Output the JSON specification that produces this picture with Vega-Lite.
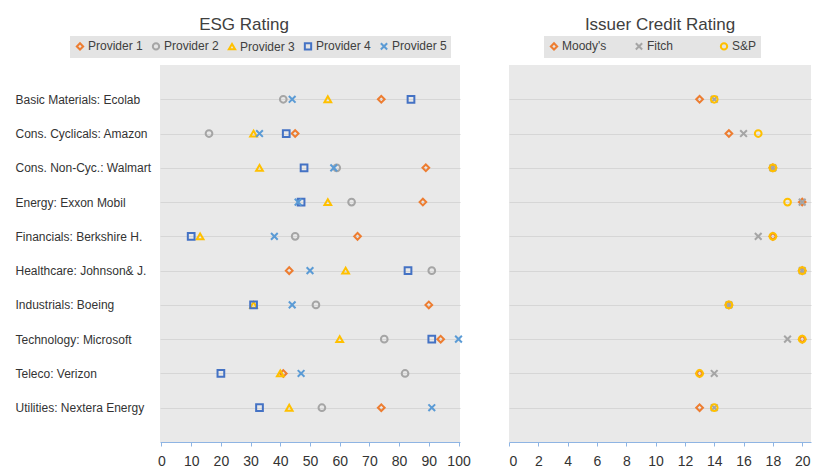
{
  "$schema": "https://vega.github.io/schema/vega-lite/v6.json",
  "background": "white",
  "padding": {"left": 15, "top": 16, "right": 3, "bottom": 2},
  "config": {
    "view": {"stroke": null, "fill": "#e9e9e9"},
    "font": "Liberation Sans",
    "axis": {"labelColor": "#404040", "labelFont": "Liberation Sans"},
    "legend": {"labelFont": "Liberation Sans"}
  },
  "datasets": {
    "esg": [
      {"company": "Basic Materials: Ecolab", "provider": "Provider 1", "value": 74},
      {"company": "Basic Materials: Ecolab", "provider": "Provider 2", "value": 41},
      {"company": "Basic Materials: Ecolab", "provider": "Provider 3", "value": 56},
      {"company": "Basic Materials: Ecolab", "provider": "Provider 4", "value": 84},
      {"company": "Basic Materials: Ecolab", "provider": "Provider 5", "value": 44},
      {"company": "Cons. Cyclicals: Amazon", "provider": "Provider 1", "value": 45},
      {"company": "Cons. Cyclicals: Amazon", "provider": "Provider 2", "value": 16},
      {"company": "Cons. Cyclicals: Amazon", "provider": "Provider 3", "value": 31},
      {"company": "Cons. Cyclicals: Amazon", "provider": "Provider 4", "value": 42},
      {"company": "Cons. Cyclicals: Amazon", "provider": "Provider 5", "value": 33},
      {"company": "Cons. Non-Cyc.: Walmart", "provider": "Provider 1", "value": 89},
      {"company": "Cons. Non-Cyc.: Walmart", "provider": "Provider 2", "value": 59},
      {"company": "Cons. Non-Cyc.: Walmart", "provider": "Provider 3", "value": 33},
      {"company": "Cons. Non-Cyc.: Walmart", "provider": "Provider 4", "value": 48},
      {"company": "Cons. Non-Cyc.: Walmart", "provider": "Provider 5", "value": 58},
      {"company": "Energy: Exxon Mobil", "provider": "Provider 1", "value": 88},
      {"company": "Energy: Exxon Mobil", "provider": "Provider 2", "value": 64},
      {"company": "Energy: Exxon Mobil", "provider": "Provider 3", "value": 56},
      {"company": "Energy: Exxon Mobil", "provider": "Provider 4", "value": 47},
      {"company": "Energy: Exxon Mobil", "provider": "Provider 5", "value": 46},
      {"company": "Financials: Berkshire H.", "provider": "Provider 1", "value": 66},
      {"company": "Financials: Berkshire H.", "provider": "Provider 2", "value": 45},
      {"company": "Financials: Berkshire H.", "provider": "Provider 3", "value": 13},
      {"company": "Financials: Berkshire H.", "provider": "Provider 4", "value": 10},
      {"company": "Financials: Berkshire H.", "provider": "Provider 5", "value": 38},
      {"company": "Healthcare: Johnson& J.", "provider": "Provider 1", "value": 43},
      {"company": "Healthcare: Johnson& J.", "provider": "Provider 2", "value": 91},
      {"company": "Healthcare: Johnson& J.", "provider": "Provider 3", "value": 62},
      {"company": "Healthcare: Johnson& J.", "provider": "Provider 4", "value": 83},
      {"company": "Healthcare: Johnson& J.", "provider": "Provider 5", "value": 50},
      {"company": "Industrials: Boeing", "provider": "Provider 1", "value": 90},
      {"company": "Industrials: Boeing", "provider": "Provider 2", "value": 52},
      {"company": "Industrials: Boeing", "provider": "Provider 3", "value": 31},
      {"company": "Industrials: Boeing", "provider": "Provider 4", "value": 31},
      {"company": "Industrials: Boeing", "provider": "Provider 5", "value": 44},
      {"company": "Technology: Microsoft", "provider": "Provider 1", "value": 94},
      {"company": "Technology: Microsoft", "provider": "Provider 2", "value": 75},
      {"company": "Technology: Microsoft", "provider": "Provider 3", "value": 60},
      {"company": "Technology: Microsoft", "provider": "Provider 4", "value": 91},
      {"company": "Technology: Microsoft", "provider": "Provider 5", "value": 100},
      {"company": "Teleco: Verizon", "provider": "Provider 1", "value": 41},
      {"company": "Teleco: Verizon", "provider": "Provider 2", "value": 82},
      {"company": "Teleco: Verizon", "provider": "Provider 3", "value": 40},
      {"company": "Teleco: Verizon", "provider": "Provider 4", "value": 20},
      {"company": "Teleco: Verizon", "provider": "Provider 5", "value": 47},
      {"company": "Utilities: Nextera Energy", "provider": "Provider 1", "value": 74},
      {"company": "Utilities: Nextera Energy", "provider": "Provider 2", "value": 54},
      {"company": "Utilities: Nextera Energy", "provider": "Provider 3", "value": 43},
      {"company": "Utilities: Nextera Energy", "provider": "Provider 4", "value": 33},
      {"company": "Utilities: Nextera Energy", "provider": "Provider 5", "value": 91}
    ],
    "credit": [
      {"company": "Basic Materials: Ecolab", "agency": "Moody's", "rating": 13},
      {"company": "Basic Materials: Ecolab", "agency": "Fitch", "rating": 14},
      {"company": "Basic Materials: Ecolab", "agency": "S&P", "rating": 14},
      {"company": "Cons. Cyclicals: Amazon", "agency": "Moody's", "rating": 15},
      {"company": "Cons. Cyclicals: Amazon", "agency": "Fitch", "rating": 16},
      {"company": "Cons. Cyclicals: Amazon", "agency": "S&P", "rating": 17},
      {"company": "Cons. Non-Cyc.: Walmart", "agency": "Moody's", "rating": 18},
      {"company": "Cons. Non-Cyc.: Walmart", "agency": "Fitch", "rating": 18},
      {"company": "Cons. Non-Cyc.: Walmart", "agency": "S&P", "rating": 18},
      {"company": "Energy: Exxon Mobil", "agency": "Moody's", "rating": 20},
      {"company": "Energy: Exxon Mobil", "agency": "Fitch", "rating": 20},
      {"company": "Energy: Exxon Mobil", "agency": "S&P", "rating": 19},
      {"company": "Financials: Berkshire H.", "agency": "Moody's", "rating": 18},
      {"company": "Financials: Berkshire H.", "agency": "Fitch", "rating": 17},
      {"company": "Financials: Berkshire H.", "agency": "S&P", "rating": 18},
      {"company": "Healthcare: Johnson& J.", "agency": "Moody's", "rating": 20},
      {"company": "Healthcare: Johnson& J.", "agency": "Fitch", "rating": 20},
      {"company": "Healthcare: Johnson& J.", "agency": "S&P", "rating": 20},
      {"company": "Industrials: Boeing", "agency": "Moody's", "rating": 15},
      {"company": "Industrials: Boeing", "agency": "Fitch", "rating": 15},
      {"company": "Industrials: Boeing", "agency": "S&P", "rating": 15},
      {"company": "Technology: Microsoft", "agency": "Moody's", "rating": 20},
      {"company": "Technology: Microsoft", "agency": "Fitch", "rating": 19},
      {"company": "Technology: Microsoft", "agency": "S&P", "rating": 20},
      {"company": "Teleco: Verizon", "agency": "Moody's", "rating": 13},
      {"company": "Teleco: Verizon", "agency": "Fitch", "rating": 14},
      {"company": "Teleco: Verizon", "agency": "S&P", "rating": 13},
      {"company": "Utilities: Nextera Energy", "agency": "Moody's", "rating": 13},
      {"company": "Utilities: Nextera Energy", "agency": "Fitch", "rating": 14},
      {"company": "Utilities: Nextera Energy", "agency": "S&P", "rating": 14}
    ]
  },
  "spacing": 37,
  "resolve": {
    "scale": {"color": "independent", "shape": "independent", "y": "independent", "x": "independent"},
    "legend": {"color": "independent", "shape": "independent"}
  },
  "hconcat": [
    {
      "width": 300,
      "height": 377,
      "title": {"text": "ESG Rating", "fontSize": 17, "fontWeight": "normal", "color": "#404040", "anchor": "middle", "dx": -66, "offset": 2},
      "data": {"name": "esg"},
      "mark": {"type": "point", "filled": false, "strokeWidth": 2, "size": 45, "opacity": 1},
      "encoding": {
        "y": {
          "field": "company", "type": "nominal",
          "sort": ["Basic Materials: Ecolab", "Cons. Cyclicals: Amazon", "Cons. Non-Cyc.: Walmart", "Energy: Exxon Mobil", "Financials: Berkshire H.", "Healthcare: Johnson& J.", "Industrials: Boeing", "Technology: Microsoft", "Teleco: Verizon", "Utilities: Nextera Energy"],
          "scale": {"type": "point", "padding": 1},
          "axis": {"title": null, "labelAlign": "left", "labelPadding": 145, "ticks": false, "domain": false, "grid": true, "gridColor": "#d6d6d6", "gridWidth": 1, "labelFontSize": 12, "labelColor": "#333333", "labelLimit": 200}
        },
        "x": {
          "field": "value", "type": "quantitative",
          "scale": {"domain": [-0.5, 100.5], "nice": false, "zero": false},
          "axis": {"title": null, "values": [0, 10, 20, 30, 40, 50, 60, 70, 80, 90, 100], "grid": false, "domainColor": "#8eb4e3", "tickColor": "#8eb4e3", "labelFontSize": 14, "labelPadding": 8, "tickSize": 4, "labelColor": "#333333"}
        },
        "color": {
          "field": "provider", "type": "nominal",
          "scale": {"domain": ["Provider 1", "Provider 2", "Provider 3", "Provider 4", "Provider 5"], "range": ["#ED7D31", "#A5A5A5", "#FFC000", "#4472C4", "#5B9BD5"]},
          "legend": {"title": null, "orient": "none", "legendX": -90, "legendY": -29, "direction": "horizontal", "fillColor": "#e4e4e4", "padding": 4, "labelFontSize": 12, "labelColor": "#404040", "symbolSize": 40, "symbolStrokeWidth": 2, "columnPadding": 5, "labelOffset": 2}
        },
        "shape": {
          "field": "provider", "type": "nominal",
          "scale": {"domain": ["Provider 1", "Provider 2", "Provider 3", "Provider 4", "Provider 5"], "range": ["diamond", "circle", "triangle-up", "square", "M-1,-1L1,1M-1,1L1,-1"]},
          "legend": {"title": null, "orient": "none", "legendX": -90, "legendY": -29, "direction": "horizontal", "fillColor": "#e4e4e4", "padding": 4, "labelFontSize": 12, "labelColor": "#404040", "symbolSize": 40, "symbolStrokeWidth": 2, "columnPadding": 5, "labelOffset": 2}
        }
      }
    },
    {
      "width": 302,
      "height": 377,
      "title": {"text": "Issuer Credit Rating", "fontSize": 17, "fontWeight": "normal", "color": "#404040", "anchor": "middle", "offset": 2},
      "data": {"name": "credit"},
      "mark": {"type": "point", "filled": false, "strokeWidth": 2, "size": 45, "opacity": 1},
      "encoding": {
        "y": {
          "field": "company", "type": "nominal",
          "sort": ["Basic Materials: Ecolab", "Cons. Cyclicals: Amazon", "Cons. Non-Cyc.: Walmart", "Energy: Exxon Mobil", "Financials: Berkshire H.", "Healthcare: Johnson& J.", "Industrials: Boeing", "Technology: Microsoft", "Teleco: Verizon", "Utilities: Nextera Energy"],
          "scale": {"type": "point", "padding": 1},
          "axis": {"title": null, "labels": false, "ticks": false, "domain": false, "grid": true, "gridColor": "#d6d6d6", "gridWidth": 1}
        },
        "x": {
          "field": "rating", "type": "quantitative",
          "scale": {"domain": [0, 20.6], "nice": false, "zero": false},
          "axis": {"title": null, "values": [0, 2, 4, 6, 8, 10, 12, 14, 16, 18, 20], "grid": false, "domainColor": "#8eb4e3", "tickColor": "#8eb4e3", "labelFontSize": 14, "labelPadding": 8, "tickSize": 4, "labelColor": "#333333"}
        },
        "color": {
          "field": "agency", "type": "nominal",
          "scale": {"domain": ["Moody's", "Fitch", "S&P"], "range": ["#ED7D31", "#A5A5A5", "#FFC000"]},
          "legend": {"title": null, "orient": "none", "legendX": 35, "legendY": -29, "direction": "horizontal", "fillColor": "#e4e4e4", "padding": 4, "labelFontSize": 12, "labelColor": "#404040", "symbolSize": 40, "symbolStrokeWidth": 2, "columnPadding": 24, "gridAlign": "all", "labelOffset": 2}
        },
        "shape": {
          "field": "agency", "type": "nominal",
          "scale": {"domain": ["Moody's", "Fitch", "S&P"], "range": ["diamond", "M-1,-1L1,1M-1,1L1,-1", "circle"]},
          "legend": {"title": null, "orient": "none", "legendX": 35, "legendY": -29, "direction": "horizontal", "fillColor": "#e4e4e4", "padding": 4, "labelFontSize": 12, "labelColor": "#404040", "symbolSize": 40, "symbolStrokeWidth": 2, "columnPadding": 24, "gridAlign": "all", "labelOffset": 2}
        }
      }
    }
  ]
}
